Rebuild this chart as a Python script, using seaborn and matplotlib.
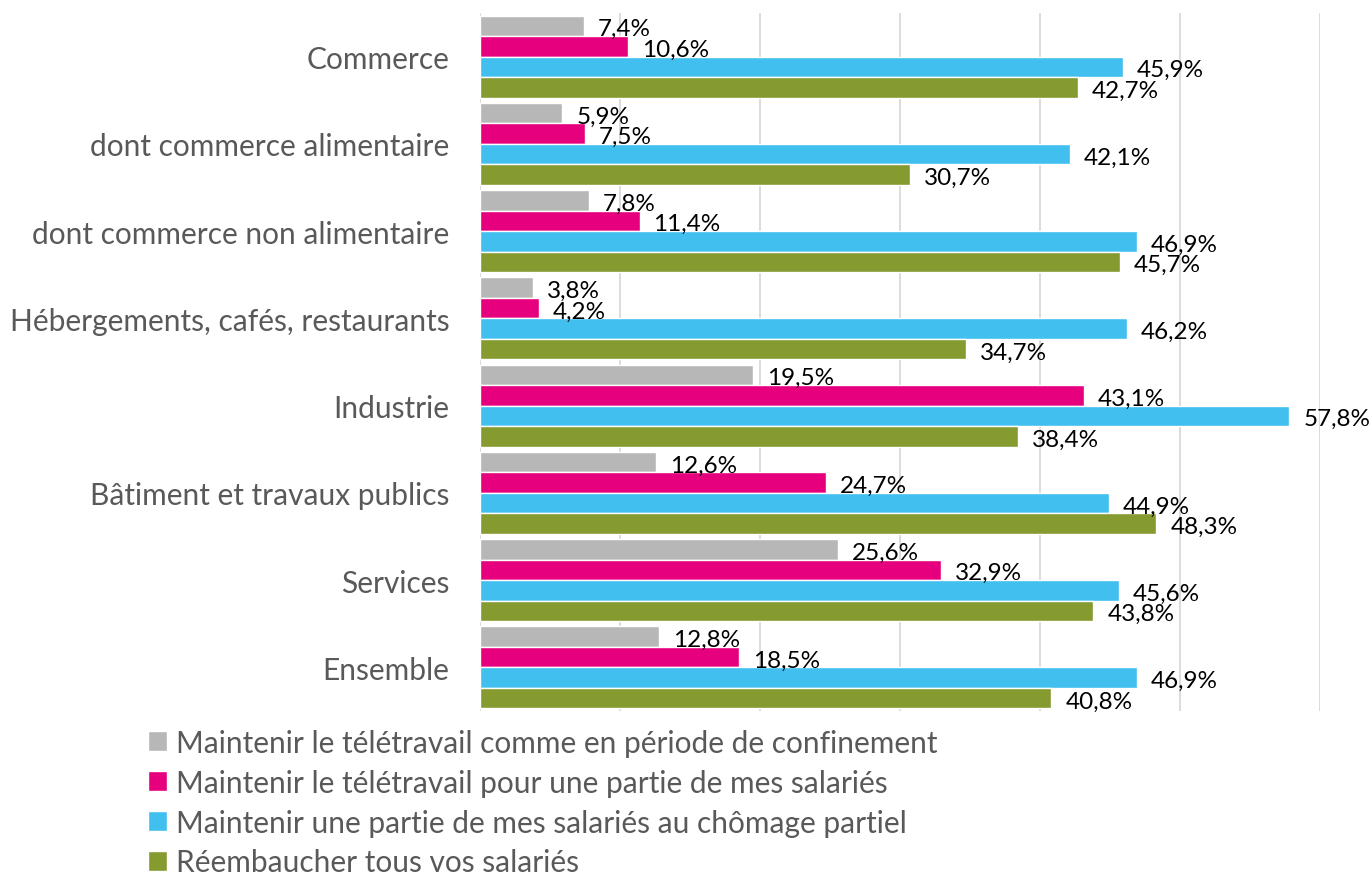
import matplotlib
matplotlib.use("Agg")
import matplotlib.pyplot as plt
import seaborn as sns
import pandas as pd

categories = ["Commerce", "dont commerce alimentaire", "dont commerce non alimentaire",
              "Hébergements, cafés, restaurants", "Industrie", "Bâtiment et travaux publics",
              "Services", "Ensemble"]
series_names = ["Maintenir le télétravail comme en période de confinement",
                "Maintenir le télétravail pour une partie de mes salariés",
                "Maintenir une partie de mes salariés au chômage partiel",
                "Réembaucher tous vos salariés"]
s1 = [7.4, 5.9, 7.8, 3.8, 19.5, 12.6, 25.6, 12.8]
s2 = [10.6, 7.5, 11.4, 4.2, 43.1, 24.7, 32.9, 18.5]
s3 = [45.9, 42.1, 46.9, 46.2, 57.8, 44.9, 45.6, 46.9]
s4 = [42.7, 30.7, 45.7, 34.7, 38.4, 48.3, 43.8, 40.8]
colors = ["#B7B7B7", "#E6007E", "#41BFEF", "#859A2F"]

rows = []
for name, vals in zip(series_names, [s1, s2, s3, s4]):
    for c, v in zip(categories, vals):
        rows.append({"cat": c, "serie": name, "val": v})
df = pd.DataFrame(rows)

sns.set_theme(style="white")
plt.rcParams["font.family"] = ["Lato", "DejaVu Sans"]

fig = plt.figure(figsize=(13.71, 8.78), dpi=100)
ax = fig.add_axes([0.350, 0.189, 0.613, 0.795])
sns.barplot(data=df, y="cat", x="val", hue="serie", hue_order=series_names,
            order=categories, palette=colors, orient="h", width=0.94,
            saturation=1, ax=ax, legend=True)

ax.set_xlim(0, 60)
ax.set_ylim(7.5, -0.5)
ax.set_xticks(range(0, 61, 10))
ax.set_xticklabels([])
ax.grid(axis="x", color="#D9D9D9", linewidth=1.3)
ax.set_axisbelow(True)
for sp in ax.spines.values():
    sp.set_visible(False)
ax.set_xlabel("")
ax.set_ylabel("")
ax.tick_params(axis="y", length=0, pad=22, labelsize=21.5, labelcolor="#595959")
ax.tick_params(axis="x", length=0)

for cont in ax.containers:
    labels = [f"{b.get_width():.1f}".replace(".", ",") + "%" for b in cont]
    txts = ax.bar_label(cont, labels=labels, padding=10, fontsize=17.5, color="black")
    for t in txts:
        t.set_va("center")
        x, y = t.xyann
        t.xyann = (x, y - 2)

leg = ax.legend(loc="lower left", bbox_to_anchor=(0.088, -0.030), bbox_transform=fig.transFigure,
                frameon=False, fontsize=21.5, handlelength=0.65, handleheight=0.65,
                handletextpad=0.3, labelspacing=0.40, labelcolor="#595959")

fig.savefig("out.png", dpi=100)
